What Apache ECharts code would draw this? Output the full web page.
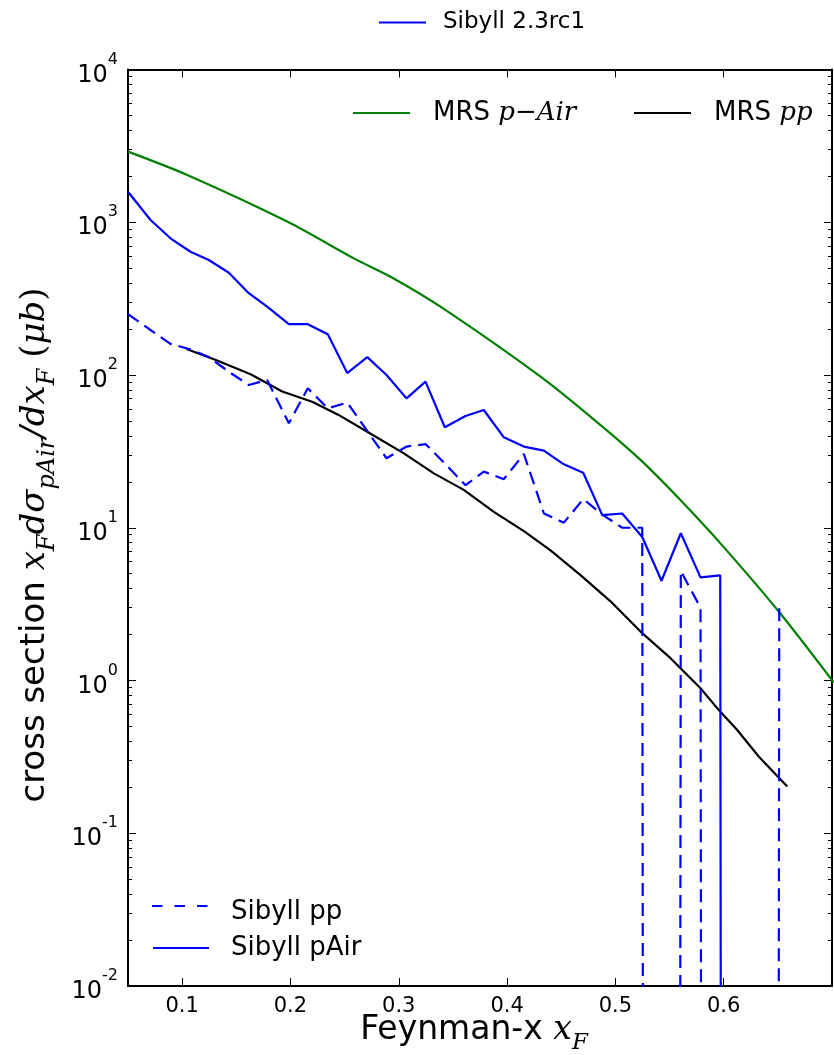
<!DOCTYPE html>
<html><head><meta charset="utf-8">
<script src="https://cdn.jsdelivr.net/npm/echarts@6/dist/echarts.min.js"></script>
<style>html,body{margin:0;padding:0;background:#fff}#c{width:834px;height:1055px}</style>
</head><body><div id="c"></div>
<script>
// ---- data ----
const sibyllX = [0.050,0.0708,0.0892,0.1077,0.1246,0.1431,0.1615,0.1785,0.1985,0.2160,0.2345,0.2524,0.2709,0.2887,0.3072,0.3247,0.3425,0.3616,0.3785,0.3970,0.4155,0.4340,0.4524,0.4703,0.4879,0.5063,0.5248,0.5426,0.5604,0.5786,0.5968,0.6150,0.6333,0.6513,0.6698,0.6880,0.7060];
const sibyllPAir = [1585,1035,785,641,566,467,343,280,215,215,185,103,131,100,70.3,90.4,45.5,53.9,59,39.1,34,32,26,22.9,12.1,12.4,8.7,4.5,9.2,4.73,4.88,0,0,0,0,0,0];
const sibyllPP = [250,197,160,147,131,105,86,92.7,48.3,81.8,60.5,66,43,28.5,34,35.3,26.4,19,23.3,20.8,30.4,12.4,10.8,15.4,12.2,10,10,0,5.2,3.0,0,0,0,3.12,0,0,0];
const mrsPAirX = [0.05,0.1047,0.197,0.2585,0.2924,0.3385,0.4309,0.4863,0.5232,0.56,0.597,0.651,0.7017];
const mrsPAir = [2900,2040,1010,580,440,280,97.5,47,27.8,15.2,7.9,2.82,0.97];
const mrsPPX = [0.104,0.1317,0.1632,0.1924,0.220,0.2440,0.2709,0.3047,0.3324,0.360,0.3878,0.4155,0.4401,0.4678,0.4955,0.5232,0.5509,0.5786,0.5955,0.6125,0.6325,0.6587];
const mrsPP = [148,125,101,78,66.8,55,42.5,30.7,22.7,17.7,12.7,9.5,7.1,4.9,3.3,2.09,1.4,0.89,0.64,0.474,0.317,0.202];
const xTickLabels = [0.1,0.2,0.3,0.4,0.5,0.6];
const yDecades = [0.01,0.1,1,10,100,1000,10000];
const yMinor = [];
for (let e = -2; e < 4; e++) for (let m = 2; m <= 9; m++) yMinor.push(m * Math.pow(10, e));

// zero counts on a log axis: drawn as a drop far below the visible range.
// The fall after an isolated one-bin spike retraces the rise exactly, so it is left out.
const ZERO = 1e-100;
const pairs = (xs, ys) => xs.map((x, i) => {
  const y = ys[i];
  if (y > 0) return [x, y];
  const spikeBefore = i >= 2 && ys[i - 1] > 0 && !(ys[i - 2] > 0);
  return [x, spikeBefore ? null : ZERO];
});

const SANS = 'DejaVu Sans';
const MATH = 'DejaVu Serif';
const chart = echarts.init(document.getElementById('c'), null, {renderer: 'canvas'});

const yCommon = {type: 'log', logBase: 10, min: 0.01, max: 10000, splitLine: {show: false}};
const legendText = (size, padLeft) => ({
  fontSize: size, fontFamily: SANS, color: '#000', padding: [0, 0, 0, padLeft],
  rich: {
    a: {fontSize: size, fontFamily: SANS, color: '#000'},
    m: {fontSize: size, fontFamily: MATH, fontStyle: 'italic', color: '#000'}
  }
});
const legendBase = {itemHeight: 14, padding: 0, selectedMode: false, align: 'left',
  itemStyle: {opacity: 0, color: 'transparent', borderWidth: 0}};

chart.setOption({
  animation: false,
  backgroundColor: '#fff',
  grid: {left: 128, right: 2, top: 69.5, bottom: 69, containLabel: false, outerBoundsMode: 'none'},
  xAxis: [
    {type: 'value', min: 0.05, max: 0.7, splitNumber: 6, position: 'bottom',
     axisLine: {lineStyle: {color: '#000', width: 2}},
     axisTick: {inside: true, length: 8, lineStyle: {color: '#000', width: 1}, customValues: xTickLabels},
     axisLabel: {customValues: xTickLabels, margin: 10, fontSize: 21, fontFamily: SANS, color: '#000',
                 formatter: v => v.toFixed(1)},
     splitLine: {show: false}},
    {type: 'value', min: 0.05, max: 0.7, position: 'top',
     axisLine: {lineStyle: {color: '#000', width: 2}},
     axisTick: {inside: true, length: 8, lineStyle: {color: '#000', width: 1}, customValues: xTickLabels},
     axisLabel: {show: false}, splitLine: {show: false}}
  ],
  yAxis: [
    Object.assign({}, yCommon, {position: 'left',
     axisLine: {lineStyle: {color: '#000', width: 2}},
     axisTick: {inside: true, length: 8, lineStyle: {color: '#000', width: 1}, customValues: yDecades},
     axisLabel: {customValues: yDecades, margin: 10, color: '#000',
       formatter: v => '{b|10}{p|' + Math.round(Math.log10(v)) + '}',
       rich: {b: {fontSize: 24, fontFamily: SANS, color: '#000', lineHeight: 36, verticalAlign: 'bottom'},
              p: {fontSize: 16, fontFamily: SANS, color: '#000', lineHeight: 16, verticalAlign: 'top'}}}}),
    Object.assign({}, yCommon, {position: 'right',
     axisLine: {lineStyle: {color: '#000', width: 2}},
     axisTick: {inside: true, length: 8, lineStyle: {color: '#000', width: 1}, customValues: yDecades},
     axisLabel: {show: false}}),
    Object.assign({}, yCommon, {position: 'left',
     axisLine: {show: false},
     axisTick: {inside: true, length: 4, lineStyle: {color: '#000', width: 1}, customValues: yMinor},
     axisLabel: {show: false}}),
    Object.assign({}, yCommon, {position: 'right',
     axisLine: {show: false},
     axisTick: {inside: true, length: 4, lineStyle: {color: '#000', width: 1}, customValues: yMinor},
     axisLabel: {show: false}})
  ],
  legend: [
    Object.assign({}, legendBase, {data: ['Sibyll 2.3rc1'], left: 378, top: 11, itemWidth: 47,
     textStyle: legendText(23, 12)}),
    Object.assign({}, legendBase, {data: ['MRS p-Air'], left: 352, top: 100, itemWidth: 57,
     textStyle: legendText(26, 18), formatter: () => '{a|MRS }{m|p−Air}'}),
    Object.assign({}, legendBase, {data: ['MRS pp'], left: 633, top: 100, itemWidth: 57,
     textStyle: legendText(26, 18), formatter: () => '{a|MRS }{m|pp}'}),
    Object.assign({}, legendBase, {orient: 'vertical', left: 152, top: 899, itemWidth: 56, itemGap: 10,
     data: [
       {name: 'Sibyll pp', icon: 'rect', itemStyle: {color: 'transparent', opacity: 0, borderWidth: 0}},
       {name: 'Sibyll pAir'}
     ],
     textStyle: Object.assign(legendText(26, 17), {lineHeight: 14})})
  ],
  series: [
    {name: 'Sibyll 2.3rc1', type: 'line', data: [], symbol: 'none',
     lineStyle: {color: '#0000ff', width: 2.2}, itemStyle: {color: '#0000ff'}},
    {name: 'MRS p-Air', type: 'line', data: pairs(mrsPAirX, mrsPAir), symbol: 'none', showSymbol: false, smooth: 0.3,
     lineStyle: {color: '#008000', width: 2.2}, itemStyle: {color: '#008000'}, clip: true, z: 2},
    {name: 'MRS pp', type: 'line', data: pairs(mrsPPX, mrsPP), symbol: 'none', showSymbol: false,
     lineStyle: {color: '#000000', width: 2.2}, itemStyle: {color: '#000000'}, clip: true, z: 3},
    {name: 'Sibyll pp', type: 'line', data: pairs(sibyllX, sibyllPP), symbol: 'none', showSymbol: false,
     lineStyle: {color: '#0000ff', width: 2.2, type: [13, 7]}, itemStyle: {color: '#0000ff'}, clip: true, z: 4},
    {name: 'Sibyll pAir', type: 'line', data: pairs(sibyllX, sibyllPAir), symbol: 'none', showSymbol: false,
     lineStyle: {color: '#0000ff', width: 2.2}, itemStyle: {color: '#0000ff'}, clip: true, z: 5}
  ],
  graphic: [
    // dashed key for the "Sibyll pp" legend entry
    {type: 'line', shape: {x1: 152, y1: 906, x2: 208, y2: 906}, z: 100,
     style: {stroke: '#0000ff', lineWidth: 2.2, lineDash: [10.5, 12]}},
    {type: 'text', x: 474, y: 1030, style: {
      text: '{t|Feynman-x }{m|x}{s|F}', align: 'center', verticalAlign: 'middle',
      rich: {t: {fontSize: 33, fontFamily: SANS, fill: '#000', lineHeight: 50},
             m: {fontSize: 33, fontFamily: MATH, fontStyle: 'italic', fill: '#000', lineHeight: 50},
             s: {fontSize: 23, fontFamily: MATH, fontStyle: 'italic', fill: '#000', lineHeight: 23, verticalAlign: 'bottom'}}}},
    {type: 'text', x: 35, y: 545, rotation: Math.PI / 2, style: {
      text: '{t|cross section }{m|x}{s|F}{m|dσ}{s|pAir}{m|/dx}{s|F}{u| (}{m|μb}{u|)}', align: 'center', verticalAlign: 'middle',
      rich: {t: {fontSize: 34, fontFamily: SANS, fill: '#000', lineHeight: 50},
             u: {fontSize: 34, fontFamily: MATH, fill: '#000', lineHeight: 50},
             m: {fontSize: 34, fontFamily: MATH, fontStyle: 'italic', fill: '#000', lineHeight: 50},
             s: {fontSize: 24, fontFamily: MATH, fontStyle: 'italic', fill: '#000', lineHeight: 24, verticalAlign: 'bottom'}}}}
  ]
});
</script>
</body></html>
